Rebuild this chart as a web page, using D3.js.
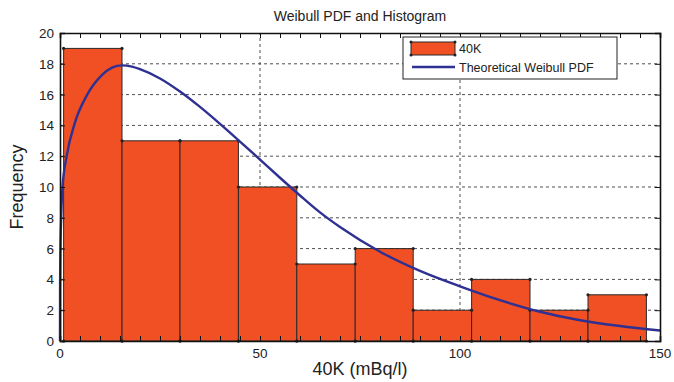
<!DOCTYPE html>
<html>
<head>
<meta charset="utf-8">
<script src="https://cdn.jsdelivr.net/npm/d3@7"></script>
<style>
  body { margin: 0; background: #fff; }
  text { font-family: "Liberation Sans", Arial, sans-serif; fill: #222; }
</style>
</head>
<body>
<svg id="chart" width="674" height="382"></svg>
<script>
// histogram bins (edges) and counts
var binEdges = [0.9, 15.5, 30.0, 44.6, 59.2, 73.8, 88.3, 102.9, 117.5, 132.0, 146.6];
var binCounts = [19, 13, 13, 10, 5, 6, 2, 4, 2, 3];

// theoretical weibull curve
var pdfX = [0, 0.02, 0.1, 0.3, 0.6, 1.7, 3.75, 6.7, 10.4, 13, 15.5, 18, 20, 25, 30, 35, 40, 45, 50, 55, 60, 65, 70, 80, 90, 100, 110, 120, 130, 140, 150];
var pdfY = [0, 3.6, 5.8, 8.0, 9.9, 12.05, 14.2, 15.95, 17.25, 17.75, 17.9, 17.82, 17.65, 17.05, 16.2, 15.2, 14.1, 12.95, 11.78, 10.6, 9.45, 8.35, 7.4, 5.8, 4.55, 3.55, 2.65, 1.9, 1.35, 0.97, 0.68];

var xTicks = [0, 50, 100, 150];
var yTicks = [0, 2, 4, 6, 8, 10, 12, 14, 16, 18, 20];

var MARGINS = {left: 60, right: 14, top: 33, bottom: 41};
var WIDTH = 674, HEIGHT = 382;

var svg = d3.select('#chart');

var xRange = d3.scaleLinear()
    .domain([0, 150])
    .range([MARGINS.left, WIDTH - MARGINS.right]);
var yRange = d3.scaleLinear()
    .domain([0, 20])
    .range([HEIGHT - MARGINS.bottom, MARGINS.top]);

// grid lines behind the bars
for (var i = 1; i < xTicks.length - 1; i++) {
    svg.append('line')
        .attr('x1', xRange(xTicks[i])).attr('x2', xRange(xTicks[i]))
        .attr('y1', yRange(0)).attr('y2', yRange(20))
        .style('stroke', '#222').style('stroke-width', 0.8)
        .style('stroke-dasharray', '3,3');
}
for (var i = 1; i < yTicks.length - 1; i++) {
    svg.append('line')
        .attr('x1', xRange(0)).attr('x2', xRange(150))
        .attr('y1', yRange(yTicks[i])).attr('y2', yRange(yTicks[i]))
        .style('stroke', '#222').style('stroke-width', 0.8)
        .style('stroke-dasharray', '3,3');
}

// bars
var bars = [];
for (var i = 0; i < binCounts.length; i++) {
    bars.push({x0: binEdges[i], x1: binEdges[i + 1], n: binCounts[i]});
}
svg.selectAll('rect.bar').data(bars).enter().append('rect')
    .attr('class', 'bar')
    .attr('x', function(d) { return xRange(d.x0); })
    .attr('y', function(d) { return yRange(d.n); })
    .attr('width', function(d) { return xRange(d.x1) - xRange(d.x0); })
    .attr('height', function(d) { return yRange(0) - yRange(d.n); })
    .style('fill', '#F05023')
    .style('stroke', '#2a2a2a')
    .style('stroke-width', 1);

// corner dots on the bars
var corners = [];
bars.forEach(function(d) {
    corners.push([d.x0, d.n], [d.x1, d.n], [d.x0, 0], [d.x1, 0]);
});
svg.selectAll('circle.corner').data(corners).enter().append('circle')
    .attr('cx', function(d) { return xRange(d[0]); })
    .attr('cy', function(d) { return yRange(d[1]); })
    .attr('r', 1.6)
    .style('fill', '#222');

// weibull pdf curve
var pdfPoints = pdfX.map(function(x, i) { return {x: x, y: pdfY[i]}; });
var lineFunc = d3.line()
    .x(function(d) { return xRange(d.x); })
    .y(function(d) { return yRange(d.y); })
    .curve(d3.curveMonotoneX);
svg.append('path')
    .attr('d', lineFunc(pdfPoints))
    .attr('stroke', '#2E3192')
    .attr('stroke-width', 2.4)
    .attr('fill', 'none');

// axes box with inward ticks
var gBottom = svg.append('g')
    .attr('transform', 'translate(0,' + yRange(0) + ')')
    .call(d3.axisBottom(xRange).tickValues(d3.range(0, 151, 5)).tickSize(-5).tickFormat(''));
var gTop = svg.append('g')
    .attr('transform', 'translate(0,' + yRange(20) + ')')
    .call(d3.axisTop(xRange).tickValues(d3.range(0, 151, 5)).tickSize(-5).tickFormat(''));
var gLeft = svg.append('g')
    .attr('transform', 'translate(' + xRange(0) + ',0)')
    .call(d3.axisLeft(yRange).tickValues(yTicks).tickSize(-5).tickFormat(''));
var gRight = svg.append('g')
    .attr('transform', 'translate(' + xRange(150) + ',0)')
    .call(d3.axisRight(yRange).tickValues(yTicks).tickSize(-5).tickFormat(''));
[gBottom, gTop, gLeft, gRight].forEach(function(g) {
    g.selectAll('path.domain').attr('stroke', '#111').attr('stroke-width', 1.6);
    g.selectAll('.tick line').attr('stroke', '#111').attr('stroke-width', 1);
});

// tick labels
svg.selectAll('text.xt').data(xTicks).enter().append('text')
    .attr('x', function(d) { return xRange(d); })
    .attr('y', yRange(0) + 17)
    .attr('text-anchor', 'middle')
    .style('font-size', '13.5px')
    .text(function(d) { return d; });
svg.selectAll('text.yt').data(yTicks).enter().append('text')
    .attr('x', xRange(0) - 6)
    .attr('y', function(d) { return yRange(d) + 5; })
    .attr('text-anchor', 'end')
    .style('font-size', '13.5px')
    .text(function(d) { return d; });

// titles
svg.append('text')
    .attr('x', (xRange(0) + xRange(150)) / 2).attr('y', 21)
    .attr('text-anchor', 'middle')
    .style('font-size', '14px')
    .text('Weibull PDF and Histogram');
svg.append('text')
    .attr('x', (xRange(0) + xRange(150)) / 2).attr('y', 375)
    .attr('text-anchor', 'middle')
    .style('font-size', '18px')
    .text('40K (mBq/l)');
svg.append('text')
    .attr('transform', 'translate(23,' + (yRange(10)) + ') rotate(-90)')
    .attr('text-anchor', 'middle')
    .style('font-size', '18px')
    .text('Frequency');

// legend
var lg = svg.append('g').attr('transform', 'translate(403,37)');
lg.append('rect')
    .attr('width', 214).attr('height', 42)
    .style('fill', '#fff').style('stroke', '#222').style('stroke-width', 1);
lg.append('rect')
    .attr('x', 8).attr('y', 5).attr('width', 44).attr('height', 13)
    .style('fill', '#F05023').style('stroke', '#2a2a2a').style('stroke-width', 1);
[[8, 5], [52, 5], [8, 18], [52, 18]].forEach(function(p) {
    lg.append('circle').attr('cx', p[0]).attr('cy', p[1]).attr('r', 1.5).style('fill', '#222');
});
lg.append('text').attr('x', 56).attr('y', 16).style('font-size', '12.5px').text('40K');
lg.append('line')
    .attr('x1', 9).attr('x2', 52).attr('y1', 30).attr('y2', 30)
    .attr('stroke', '#2E3192').attr('stroke-width', 2.4);
lg.append('text').attr('x', 56).attr('y', 34.5).style('font-size', '12.5px').text('Theoretical Weibull PDF');
</script>
</body>
</html>
